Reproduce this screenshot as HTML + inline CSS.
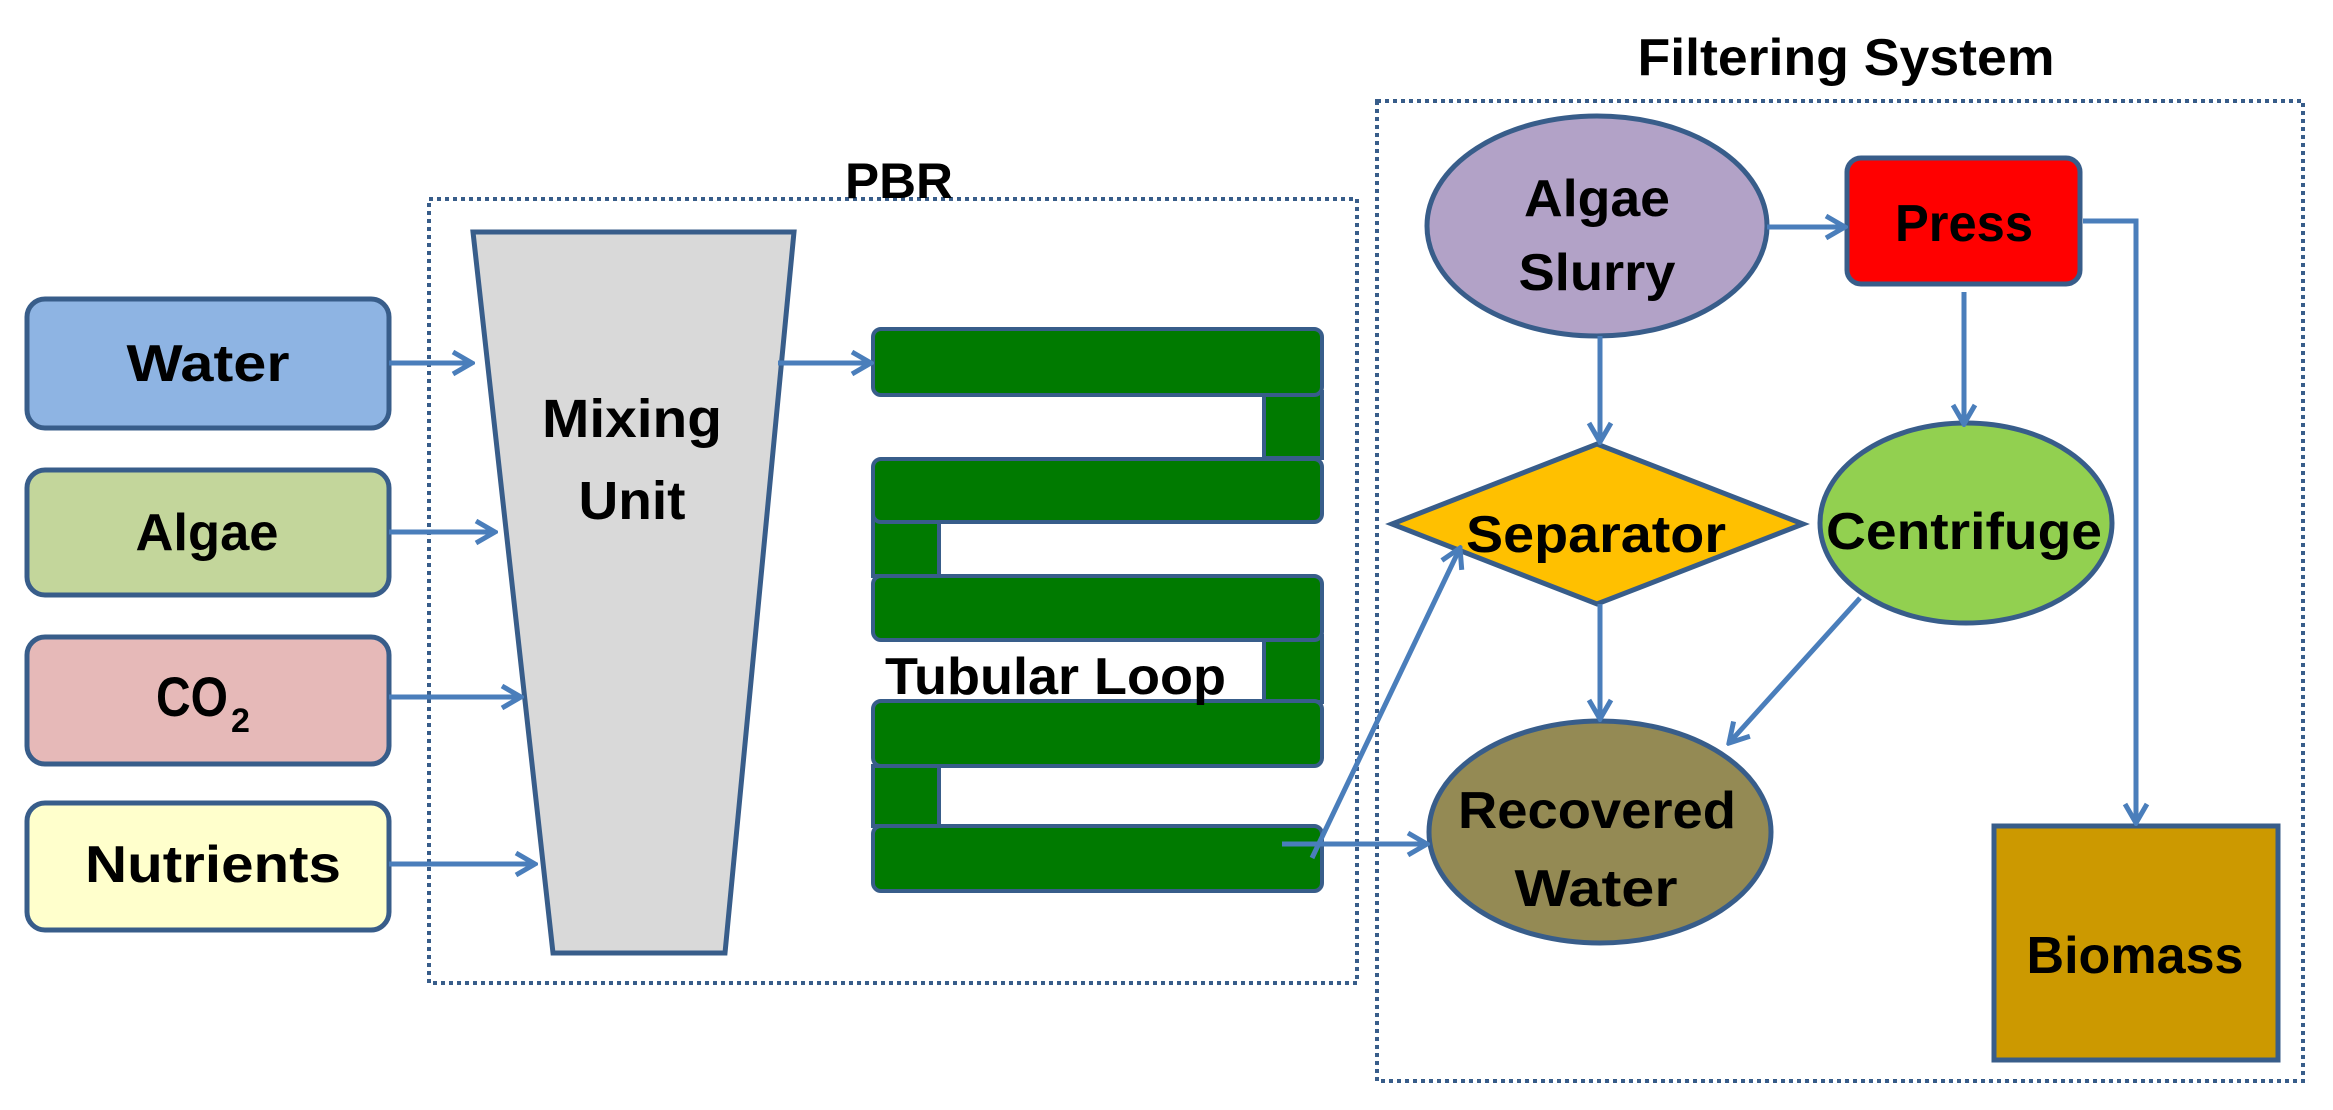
<!DOCTYPE html>
<html><head><meta charset="utf-8"><style>
html,body{margin:0;padding:0;background:#fff;}
svg{display:block;}
text{font-family:"Liberation Sans",sans-serif;font-weight:bold;fill:#000;}
</style></head><body>
<svg width="2333" height="1110" viewBox="0 0 2333 1110" xmlns="http://www.w3.org/2000/svg">
<defs>
<marker id="a" viewBox="0 0 28 28" refX="25" refY="14" markerWidth="28" markerHeight="28" markerUnits="userSpaceOnUse" orient="auto">
<path d="M6,3 L25,14 L6,25" fill="none" stroke="#4a7ebb" stroke-width="5"/>
</marker>
</defs>
<g fill="none" stroke="#385d8a" stroke-width="4" stroke-dasharray="4 4">
<rect x="429" y="199" width="928" height="784"/>
<rect x="1377" y="101" width="926" height="980"/>
</g>
<text x="899" y="198" font-size="50" text-anchor="middle" textLength="108" lengthAdjust="spacingAndGlyphs">PBR</text>
<text x="1846" y="75" font-size="52" text-anchor="middle" textLength="417" lengthAdjust="spacingAndGlyphs">Filtering System</text>
<g stroke="#385d8a" stroke-width="5">
<rect x="27" y="299" width="362" height="129" rx="18" fill="#8eb4e3"/>
<rect x="27" y="470" width="362" height="125" rx="18" fill="#c3d69b"/>
<rect x="27" y="637" width="362" height="127" rx="18" fill="#e6b9b8"/>
<rect x="27" y="803" width="362" height="127" rx="18" fill="#ffffcc"/>
<polygon points="473,232 794,232 725,953 553,953" fill="#d9d9d9"/>
</g>
<text x="208" y="381" font-size="52" text-anchor="middle" textLength="163" lengthAdjust="spacingAndGlyphs">Water</text>
<text x="207" y="550" font-size="52" text-anchor="middle" textLength="143" lengthAdjust="spacingAndGlyphs">Algae</text>
<text x="156" y="716" font-size="56" textLength="72" lengthAdjust="spacingAndGlyphs">CO</text>
<text x="231" y="732" font-size="34">2</text>
<text x="213" y="882" font-size="52" text-anchor="middle" textLength="256" lengthAdjust="spacingAndGlyphs">Nutrients</text>
<text x="632" y="437" font-size="54" text-anchor="middle" textLength="180" lengthAdjust="spacingAndGlyphs">Mixing</text>
<text x="632" y="519" font-size="54" text-anchor="middle" textLength="107" lengthAdjust="spacingAndGlyphs">Unit</text>
<g fill="#007a00" stroke="#385d8a" stroke-width="4">
<rect x="1264" y="392" width="58" height="66"/>
<rect x="873" y="516" width="66" height="60"/>
<rect x="1264" y="636" width="58" height="66"/>
<rect x="873" y="766" width="66" height="60"/>
<rect x="873" y="329" width="449" height="66" rx="8"/>
<rect x="873" y="459" width="449" height="63" rx="8"/>
<rect x="873" y="576" width="449" height="64" rx="8"/>
<rect x="873" y="701" width="449" height="65" rx="8"/>
<rect x="873" y="826" width="449" height="65" rx="8"/>
</g>
<rect x="878" y="645" width="384" height="52" fill="#fff"/>
<text x="885" y="694" font-size="52" textLength="341" lengthAdjust="spacingAndGlyphs">Tubular Loop</text>
<g stroke="#385d8a" stroke-width="5">
<ellipse cx="1597" cy="226" rx="170" ry="110" fill="#b2a2c7"/>
<rect x="1847" y="158" width="233" height="126" rx="14" fill="#ff0000"/>
<ellipse cx="1966" cy="523" rx="146" ry="100" fill="#92d050"/>
<polygon points="1392,524 1597,444 1803,524 1597,604" fill="#ffc000"/>
<ellipse cx="1600" cy="832" rx="171" ry="111" fill="#948a54"/>
<rect x="1994" y="826" width="284" height="234" fill="#cc9900"/>
</g>
<text x="1597" y="216" font-size="52" text-anchor="middle" textLength="146" lengthAdjust="spacingAndGlyphs">Algae</text>
<text x="1597" y="290" font-size="52" text-anchor="middle" textLength="157" lengthAdjust="spacingAndGlyphs">Slurry</text>
<text x="1964" y="241" font-size="52" text-anchor="middle" textLength="138" lengthAdjust="spacingAndGlyphs">Press</text>
<text x="1596" y="552" font-size="52" text-anchor="middle" textLength="260" lengthAdjust="spacingAndGlyphs">Separator</text>
<text x="1964" y="549" font-size="52" text-anchor="middle" textLength="276" lengthAdjust="spacingAndGlyphs">Centrifuge</text>
<text x="1597" y="828" font-size="52" text-anchor="middle" textLength="278" lengthAdjust="spacingAndGlyphs">Recovered</text>
<text x="1596" y="906" font-size="52" text-anchor="middle" textLength="163" lengthAdjust="spacingAndGlyphs">Water</text>
<text x="2135" y="973" font-size="52" text-anchor="middle" textLength="217" lengthAdjust="spacingAndGlyphs">Biomass</text>
<g stroke="#4a7ebb" stroke-width="5" fill="none" marker-end="url(#a)">
<line x1="389" y1="363" x2="472" y2="363"/>
<line x1="389" y1="532" x2="495" y2="532"/>
<line x1="389" y1="697" x2="521" y2="697"/>
<line x1="389" y1="864" x2="535" y2="864"/>
<line x1="778" y1="363" x2="871" y2="363"/>
<line x1="1767" y1="227" x2="1845" y2="227"/>
<polyline points="2083,221 2136,221 2136,823"/>
<line x1="1964" y1="292" x2="1964" y2="424"/>
<line x1="1600" y1="336" x2="1600" y2="442"/>
<line x1="1600" y1="604" x2="1600" y2="719"/>
<line x1="1860" y1="598" x2="1729" y2="743"/>
<line x1="1312" y1="858" x2="1460" y2="548"/>
<line x1="1282" y1="844" x2="1427" y2="844"/>
</g>
</svg>
</body></html>
